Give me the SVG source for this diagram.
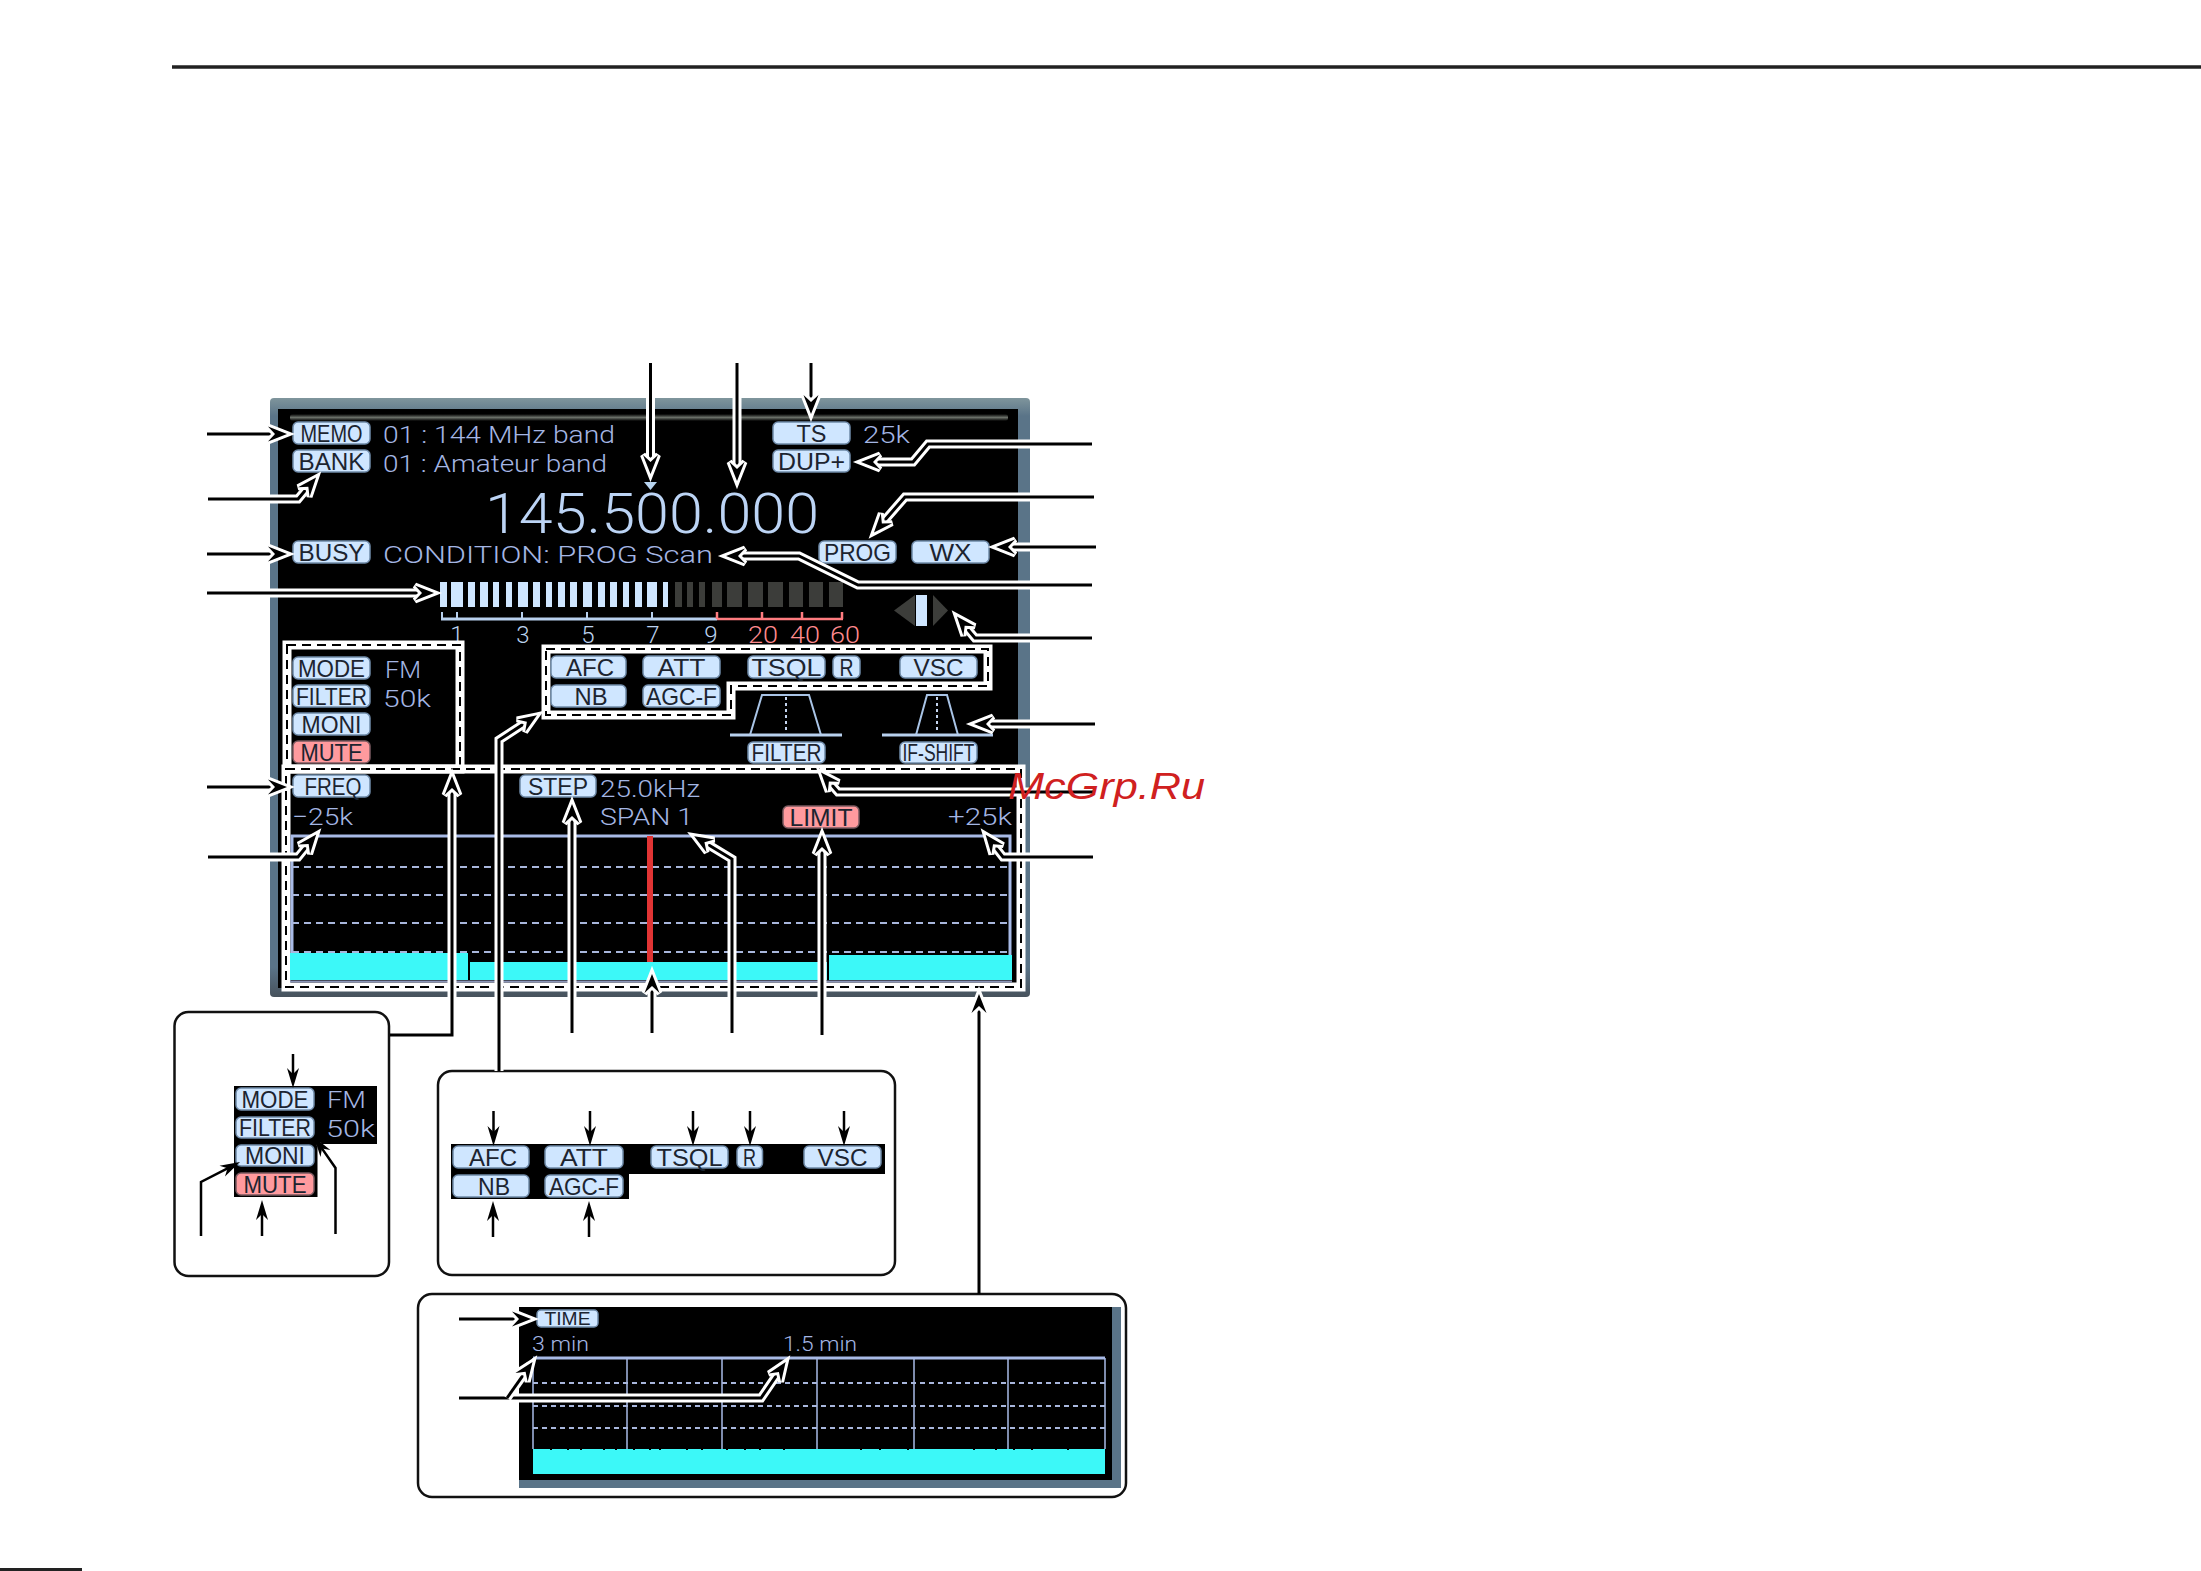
<svg xmlns="http://www.w3.org/2000/svg" width="2201" height="1571" viewBox="0 0 2201 1571">
<style>
text{font-family:"Liberation Sans",Arial,sans-serif}
.p{fill:#cfe6ff;stroke:#6f8aa8;stroke-width:1.5}
.r{fill:#ff9a9e;stroke:#7a5a60;stroke-width:1.5}
.pt{font-size:24px;fill:#1c2430;text-anchor:middle}
.t,.s,.sr,#freq-display{font-family:Roboto,"Liberation Sans",sans-serif;font-weight:300}
.t{font-size:24px;fill:#a4b6e4}
.s{font-size:24px;fill:#bcd2ee;text-anchor:middle}
.sr{font-size:24px;fill:#ff8a8e;text-anchor:middle}
.h{fill:none;stroke:#fff;stroke-width:9}
.l{fill:none;stroke:#000;stroke-width:3}
.a{marker-end:url(#a)}
.b{fill:none;stroke:#000;stroke-width:2.5;marker-end:url(#b)}
.dw{fill:none;stroke:#fff;stroke-width:9}
.dk{fill:none;stroke:#000;stroke-width:2;stroke-dasharray:9 6}
.gd{fill:none;stroke:#a8b6dc;stroke-width:2;stroke-dasharray:7 5}
.g{fill:none;stroke:#a8bae6;stroke-width:3}
.box{fill:#fff;stroke:#111;stroke-width:2.5}
.cy{fill:#3cf8f8}
.bk{fill:#000}
.sh{fill:none;stroke:#a9c4e6;stroke-width:2}
.shd{fill:none;stroke:#c4d4ee;stroke-width:2;stroke-dasharray:3 3}
</style>
<defs>
<linearGradient id="fr" x1="0" y1="0" x2="0" y2="1"><stop offset="0" stop-color="#7f959c"/><stop offset=".03" stop-color="#5a7488"/><stop offset=".95" stop-color="#5a7488"/><stop offset="1" stop-color="#47525c"/></linearGradient>
<linearGradient id="st" x1="0" y1="0" x2="0" y2="1"><stop offset="0" stop-color="#000"/><stop offset=".5" stop-color="#6a6f68"/><stop offset="1" stop-color="#000"/></linearGradient>
<marker id="a" markerUnits="userSpaceOnUse" markerWidth="56" markerHeight="56" viewBox="-28 -28 56 56" refX="0" refY="0" orient="auto" overflow="visible"><path d="M4,0 L-15,-7.500 L-8,0 L-15,7.500 Z" fill="#000" stroke="#fff" stroke-width="6" stroke-miterlimit="4" paint-order="stroke"/></marker>
<marker id="b" markerUnits="userSpaceOnUse" markerWidth="30" markerHeight="30" viewBox="-15 -15 30 30" refX="0" refY="0" orient="auto" overflow="visible"><path d="M8,0 L-12,-6 L-6,0 L-12,6 Z" fill="#000"/></marker>
</defs>
<rect width="2201" height="1571" fill="#fff"/>
<path d="M172 67H2201" stroke="#222" stroke-width="3.5"/>
<path d="M0 1569.500H82" stroke="#222" stroke-width="3"/>

<g id="screen">
<rect x="270" y="398" width="760" height="599" rx="4" fill="url(#fr)"/>
<rect x="278" y="409" width="740" height="579" fill="#000"/>
<rect x="290" y="414" width="718" height="7" rx="3" fill="url(#st)"/>
</g>

<g id="top-row">
<g id="memo"><rect class="p" x="293" y="422" width="77" height="22" rx="5"/><text class="pt" x="331.500" y="442" textLength="62" lengthAdjust="spacingAndGlyphs">MEMO</text></g>
<text class="t" x="383" y="443" textLength="232" lengthAdjust="spacingAndGlyphs">01 : 144  MHz  band</text>
<g id="bank"><rect class="p" x="293" y="450" width="77" height="22" rx="5"/><text class="pt" x="331.500" y="470" textLength="66" lengthAdjust="spacingAndGlyphs">BANK</text></g>
<text class="t" x="383" y="472" textLength="224" lengthAdjust="spacingAndGlyphs">01 : Amateur band</text>
<g id="ts"><rect class="p" x="773" y="422" width="77" height="22" rx="5"/><text class="pt" x="811.500" y="442" textLength="30" lengthAdjust="spacingAndGlyphs">TS</text></g>
<text class="t" x="863" y="443" textLength="47" lengthAdjust="spacingAndGlyphs">25k</text>
<g id="dup"><rect class="p" x="773" y="450" width="77" height="22" rx="5"/><text class="pt" x="811.500" y="470" textLength="67" lengthAdjust="spacingAndGlyphs">DUP+</text></g>
<path d="M644 482h13l-6.500 8z" fill="#b8d4f0"/>
<text id="freq-display" x="485" y="533" font-size="56" fill="#bcd4f5" textLength="334" lengthAdjust="spacingAndGlyphs">145.500.000</text>
<g id="busy"><rect class="p" x="293" y="541" width="77" height="22" rx="5"/><text class="pt" x="331.500" y="561" textLength="66" lengthAdjust="spacingAndGlyphs">BUSY</text></g>
<text class="t" x="383" y="563" textLength="330" lengthAdjust="spacingAndGlyphs">CONDITION: PROG Scan</text>
<g id="prog"><rect class="p" x="819" y="541" width="77" height="22" rx="5"/><text class="pt" x="857.500" y="561" textLength="67" lengthAdjust="spacingAndGlyphs">PROG</text></g>
<g id="wx"><rect class="p" x="912" y="541" width="77" height="22" rx="5"/><text class="pt" x="950.500" y="561" textLength="42" lengthAdjust="spacingAndGlyphs">WX</text></g>
</g>

<g id="meter">
<path fill="#cfe6ff" d="M440 582h7v25h-7zM451 582h12v25h-12zM468 582h7v25h-7zM480 582h8v25h-8zM493 582h6v25h-6zM506 582h6v25h-6zM518 582h10v25h-10zM533 582h7v25h-7zM546 582h6v25h-6zM558 582h7v25h-7zM570 582h7v25h-7zM583 582h9v25h-9zM598 582h7v25h-7zM610 582h7v25h-7zM623 582h6v25h-6zM635 582h7v25h-7zM647 582h10v25h-10zM663 582h5v25h-5z"/>
<path fill="#3c3d3a" d="M675 582h7v25h-7zM687 582h6v25h-6zM699 582h6v25h-6zM712 582h10v25h-10zM727 582h15v25h-15zM748 582h15v25h-15zM768 582h15v25h-15zM789 582h14v25h-14zM809 582h14v25h-14zM829 582h14v25h-14z"/>
<path d="M442 612v7M457 612v7M522 612v7M587 612v7M652 612v7" stroke="#b8d0ee" stroke-width="2"/>
<path d="M441 619H717" stroke="#b8d0ee" stroke-width="3"/>
<path d="M717 619H843M717 612v7M762 612v7M802 612v7M842 612v7" stroke="#ff7c80" stroke-width="2.500"/>
<text class="s" x="457" y="643">1</text><text class="s" x="523" y="643">3</text><text class="s" x="588" y="643">5</text><text class="s" x="653" y="643">7</text><text class="s" x="711" y="643">9</text>
<text class="sr" x="763" y="643" textLength="30" lengthAdjust="spacingAndGlyphs">20</text><text class="sr" x="805" y="643" textLength="30" lengthAdjust="spacingAndGlyphs">40</text><text class="sr" x="845" y="643" textLength="30" lengthAdjust="spacingAndGlyphs">60</text>
</g>
<g id="tuning"><path d="M915 595v31l-21-15.500z" fill="#3c3d3a"/><rect x="916" y="595" width="11" height="31" fill="#cfe6ff"/><path d="M933 595v31l15-15.500z" fill="#3c3d3a"/></g>

<g id="left-group">
<rect class="dw" x="287" y="645" width="173" height="124"/><rect class="dk" x="287" y="645" width="173" height="124"/>
<g id="mode"><rect class="p" x="293" y="657" width="77" height="22" rx="5"/><text class="pt" x="331.500" y="677" textLength="67" lengthAdjust="spacingAndGlyphs">MODE</text></g>
<text class="t" x="385" y="678" textLength="36" lengthAdjust="spacingAndGlyphs">FM</text>
<g id="filter"><rect class="p" x="293" y="685" width="77" height="22" rx="5"/><text class="pt" x="331.500" y="705" textLength="71" lengthAdjust="spacingAndGlyphs">FILTER</text></g>
<text class="t" x="383" y="707" textLength="48" lengthAdjust="spacingAndGlyphs">50k</text>
<g id="moni"><rect class="p" x="293" y="713" width="77" height="22" rx="5"/><text class="pt" x="331.500" y="733" textLength="60" lengthAdjust="spacingAndGlyphs">MONI</text></g>
<g id="mute"><rect class="r" x="293" y="741" width="77" height="22" rx="5"/><text class="pt" x="331.500" y="761" textLength="62" lengthAdjust="spacingAndGlyphs">MUTE</text></g>
</g>

<g id="func-group">
<path class="dw" d="M546 649H988V686H731V715H546Z"/><path class="dk" d="M546 649H988V686H731V715H546Z"/>
<g id="afc"><rect class="p" x="551" y="656" width="75" height="22" rx="5"/><text class="pt" x="590" y="676" textLength="48" lengthAdjust="spacingAndGlyphs">AFC</text></g>
<g id="nb"><rect class="p" x="551" y="685" width="75" height="22" rx="5"/><text class="pt" x="591" y="705" textLength="33" lengthAdjust="spacingAndGlyphs">NB</text></g>
<g id="att"><rect class="p" x="643" y="656" width="77" height="22" rx="5"/><text class="pt" x="681.500" y="676" textLength="48" lengthAdjust="spacingAndGlyphs">ATT</text></g>
<g id="agc"><rect class="p" x="643" y="685" width="77" height="22" rx="5"/><text class="pt" x="681.500" y="705" textLength="71" lengthAdjust="spacingAndGlyphs">AGC-F</text></g>
<g id="tsql"><rect class="p" x="748" y="656" width="77" height="22" rx="5"/><text class="pt" x="786.500" y="676" textLength="70" lengthAdjust="spacingAndGlyphs">TSQL</text></g>
<g id="r"><rect class="p" x="833" y="656" width="27" height="22" rx="5"/><text class="pt" x="846.500" y="676" textLength="14" lengthAdjust="spacingAndGlyphs">R</text></g>
<g id="vsc"><rect class="p" x="900" y="656" width="77" height="22" rx="5"/><text class="pt" x="938.500" y="676" textLength="50" lengthAdjust="spacingAndGlyphs">VSC</text></g>
</g>

<g id="passband">
<path class="sh" d="M750 735L762 695H809L821 735M916 735L927 695H947L958 735"/>
<path d="M730 735H842M882 735H993" stroke="#b8d0ee" stroke-width="3"/>
<path class="shd" d="M786 697V733M937 697V733"/>
<g id="filter2"><rect class="p" x="748" y="742" width="77" height="21" rx="5"/><text class="pt" x="786.500" y="761" textLength="70" lengthAdjust="spacingAndGlyphs">FILTER</text></g>
<g id="ifshift"><rect class="p" x="900" y="742" width="77" height="21" rx="5"/><text class="pt" x="938.500" y="761" textLength="72" lengthAdjust="spacingAndGlyphs">IF-SHIFT</text></g>
</g>

<g id="spectrum">
<rect class="dw" x="286" y="769" width="735" height="218"/><rect class="dk" x="286" y="769" width="735" height="218"/>
<g id="freq"><rect class="p" x="293" y="775" width="77" height="22" rx="5"/><text class="pt" x="333" y="795" textLength="57" lengthAdjust="spacingAndGlyphs">FREQ</text></g>
<g id="step"><rect class="p" x="520" y="775" width="76" height="22" rx="5"/><text class="pt" x="558" y="795" textLength="60" lengthAdjust="spacingAndGlyphs">STEP</text></g>
<text class="t" x="600" y="797" textLength="100" lengthAdjust="spacingAndGlyphs">25.0kHz</text>
<text class="t" x="292" y="825" textLength="61" lengthAdjust="spacingAndGlyphs">−25k</text>
<text class="t" x="600" y="825" textLength="93" lengthAdjust="spacingAndGlyphs">SPAN 1</text>
<g id="limit"><rect class="r" x="783" y="806" width="76" height="22" rx="5"/><text class="pt" x="821" y="826" textLength="63" lengthAdjust="spacingAndGlyphs">LIMIT</text></g>
<text class="t" x="948" y="825" textLength="64" lengthAdjust="spacingAndGlyphs">+25k</text>
<path class="g" d="M292 955V836H1010V955"/>
<path class="gd" d="M292 867H1010M292 895H1010M292 923H1010M292 952H1010"/>
<path class="cy" d="M290 953H468V980H290ZM470 962H827V980H470ZM829 955H1012V980H829Z"/>
<path d="M290 981.500H1012" stroke="#8b95b8" stroke-width="2"/>
<rect x="647" y="836" width="6" height="126" fill="#e03434"/>
</g>

<g id="inset-mode">
<rect class="box" x="174.500" y="1012" width="214.500" height="264" rx="14"/>
<path class="bk" d="M234 1086H377V1144H317.500V1197H234Z"/>
<g id="i-mode"><rect class="p" x="236" y="1088" width="78" height="22" rx="5"/><text class="pt" x="275" y="1108" textLength="67" lengthAdjust="spacingAndGlyphs">MODE</text></g>
<text class="t" x="327" y="1108" textLength="39" lengthAdjust="spacingAndGlyphs">FM</text>
<g id="i-filter"><rect class="p" x="236" y="1117" width="78" height="21" rx="5"/><text class="pt" x="275" y="1136" textLength="72" lengthAdjust="spacingAndGlyphs">FILTER</text></g>
<text class="t" x="326" y="1137" textLength="49" lengthAdjust="spacingAndGlyphs">50k</text>
<g id="i-moni"><rect class="p" x="236" y="1145" width="78" height="21" rx="5"/><text class="pt" x="275" y="1164" textLength="60" lengthAdjust="spacingAndGlyphs">MONI</text></g>
<g id="i-mute"><rect class="r" x="236" y="1173" width="78" height="22" rx="5"/><text class="pt" x="275" y="1193" textLength="63" lengthAdjust="spacingAndGlyphs">MUTE</text></g>
</g>

<g id="inset-func">
<rect class="box" x="438" y="1071" width="457" height="204" rx="14"/>
<path class="bk" d="M451 1144H885V1174H629V1199H451Z"/>
<g id="i-afc"><rect class="p" x="453" y="1146" width="76" height="22" rx="5"/><text class="pt" x="493" y="1166" textLength="48" lengthAdjust="spacingAndGlyphs">AFC</text></g>
<g id="i-att"><rect class="p" x="545" y="1146" width="78" height="22" rx="5"/><text class="pt" x="584" y="1166" textLength="48" lengthAdjust="spacingAndGlyphs">ATT</text></g>
<g id="i-tsql"><rect class="p" x="651" y="1146" width="77" height="22" rx="5"/><text class="pt" x="689.500" y="1166" textLength="66" lengthAdjust="spacingAndGlyphs">TSQL</text></g>
<g id="i-r"><rect class="p" x="737" y="1146" width="25.500" height="22" rx="5"/><text class="pt" x="749.500" y="1166" textLength="13" lengthAdjust="spacingAndGlyphs">R</text></g>
<g id="i-vsc"><rect class="p" x="804" y="1146" width="77" height="22" rx="5"/><text class="pt" x="842.500" y="1166" textLength="50" lengthAdjust="spacingAndGlyphs">VSC</text></g>
<g id="i-nb"><rect class="p" x="453" y="1175" width="76" height="22" rx="5"/><text class="pt" x="494" y="1195" textLength="32" lengthAdjust="spacingAndGlyphs">NB</text></g>
<g id="i-agc"><rect class="p" x="545" y="1175" width="78" height="22" rx="5"/><text class="pt" x="584" y="1195" textLength="70" lengthAdjust="spacingAndGlyphs">AGC-F</text></g>
</g>

<g id="inset-time">
<rect class="box" x="418" y="1294" width="708" height="203" rx="14"/>
<path d="M519 1307H1121V1488H519Z" fill="#5a7488"/>
<rect x="519" y="1307" width="593" height="173" fill="#000"/>
<g id="i-time"><rect class="p" x="537" y="1310" width="61" height="17" rx="4"/><text class="pt" x="567.500" y="1325" style="font-size:18px" textLength="46" lengthAdjust="spacingAndGlyphs">TIME</text></g>
<text class="t" x="532" y="1351" style="font-size:20px" textLength="57" lengthAdjust="spacingAndGlyphs">3 min</text>
<text class="t" x="783" y="1351" style="font-size:20px" textLength="74" lengthAdjust="spacingAndGlyphs">1.5 min</text>
<path class="g" d="M533 1358H1105"/>
<path d="M533 1358V1449M627 1358V1449M722 1358V1449M817 1358V1449M914 1358V1449M1008 1358V1449M1105 1358V1449" stroke="#a8bae6" stroke-width="1.500"/>
<path class="gd" d="M533 1383H1105M533 1406H1105M533 1428H1105" style="stroke-dasharray:5 4"/>
<rect class="cy" x="533" y="1449" width="572" height="25"/>
<path d="M551 1447v3M568 1447v3M581 1447v3M604 1447v3M616 1447v3M634 1447v3M650 1447v3M660 1447v3M687 1447v3M702 1447v3M727 1447v3M745 1447v3M760 1447v3M784 1447v3M861 1447v3M880 1447v3M908 1447v3M974 1447v3M996 1447v3M1014 1447v3M1032 1447v3M1068 1447v3" stroke="#000" stroke-width="2"/>
</g>

<g id="connectors">
<path class="h" d="M207 434H283"/><path class="l a" d="M207 434H283"/>
<path class="h" d="M208 499H298L313.500 480.600"/><path class="l a" d="M208 499H298L313.500 480.600"/>
<path class="h" d="M207 554H283"/><path class="l a" d="M207 554H283"/>
<path class="h" d="M207 593H430"/><path class="l a" d="M207 593H430"/>
<path class="h" d="M650.500 363V470"/><path class="l a" d="M650.500 363V470"/>
<path class="h" d="M737 363V477"/><path class="l a" d="M737 363V477"/>
<path class="h" d="M811 363V410"/><path class="l a" d="M811 363V410"/>
<path class="h" d="M1092 444H928L913 462H865"/><path class="l a" d="M1092 444H928L913 462H865"/>
<path class="h" d="M1094 497H905L876.600 529.500"/><path class="l a" d="M1094 497H905L876.600 529.500"/>
<path class="h" d="M1096 547H1000"/><path class="l a" d="M1096 547H1000"/>
<path class="h" d="M1092 585H858L799 556H730"/><path class="l a" d="M1092 585H858L799 556H730"/>
<path class="h" d="M1092 638H975L959.500 619.600"/><path class="l a" d="M1092 638H975L959.500 619.600"/>
<path class="h" d="M1095 724H978"/><path class="l a" d="M1095 724H978"/>
<path class="h" d="M1093 792H838L823.600 775.500"/><path class="l a" d="M1093 792H838L823.600 775.500"/>
<path class="h" d="M1093 857H1003L988.100 837.900"/><path class="l a" d="M1093 857H1003L988.100 837.900"/>
<path class="h" d="M207 787H283"/><path class="l a" d="M207 787H283"/>
<path class="h" d="M208 857H298L313.700 837.700"/><path class="l a" d="M208 857H298L313.700 837.700"/>
<path class="h" d="M452 1035V780"/><path class="l a" d="M390 1035H452V780"/>
<path class="h" d="M499 1071V740L533.600 717.500"/><path class="l a" d="M499 1071V740L533.600 717.500"/>
<path class="h" d="M572 1033V808"/><path class="l a" d="M572 1033V808"/>
<path class="h" d="M652 1033V978"/><path class="l a" d="M652 1033V978"/>
<path class="h" d="M732 1033V859L697.600 838.200"/><path class="l a" d="M732 1033V859L697.600 838.200"/>
<path class="h" d="M822 1035V839"/><path class="l a" d="M822 1035V839"/>
<path class="l a" d="M979 1294V998"/>
<path class="h" d="M459 1398H761L783.400 1365.300"/><path class="l a" d="M459 1398H761L783.400 1365.300"/>
<path class="h" d="M507 1398L530.200 1365.200"/><path class="l a" d="M507 1398L530.200 1365.200"/>
<path class="l a" d="M459 1319H527"/>
<path class="b" d="M293 1054V1080"/>
<path class="b" d="M262 1236V1208"/>
<path class="b" d="M201 1236V1182L232.900 1165.600"/>
<path class="h" style="stroke-width:5" d="M335.500 1168L318.600 1143.600"/>
<path class="b" d="M335.500 1234V1168L318.600 1143.600"/>
<path class="b" d="M493.500 1111V1138"/>
<path class="b" d="M590 1111V1138"/>
<path class="b" d="M693 1111V1138"/>
<path class="b" d="M750 1111V1138"/>
<path class="b" d="M844 1111V1138"/>
<path class="b" d="M493 1237V1209"/>
<path class="b" d="M589 1237V1209"/>
</g>

<text id="watermark" x="1008" y="799" font-size="37" font-style="italic" fill="#d02020" textLength="197" lengthAdjust="spacingAndGlyphs">McGrp.Ru</text>
</svg>
